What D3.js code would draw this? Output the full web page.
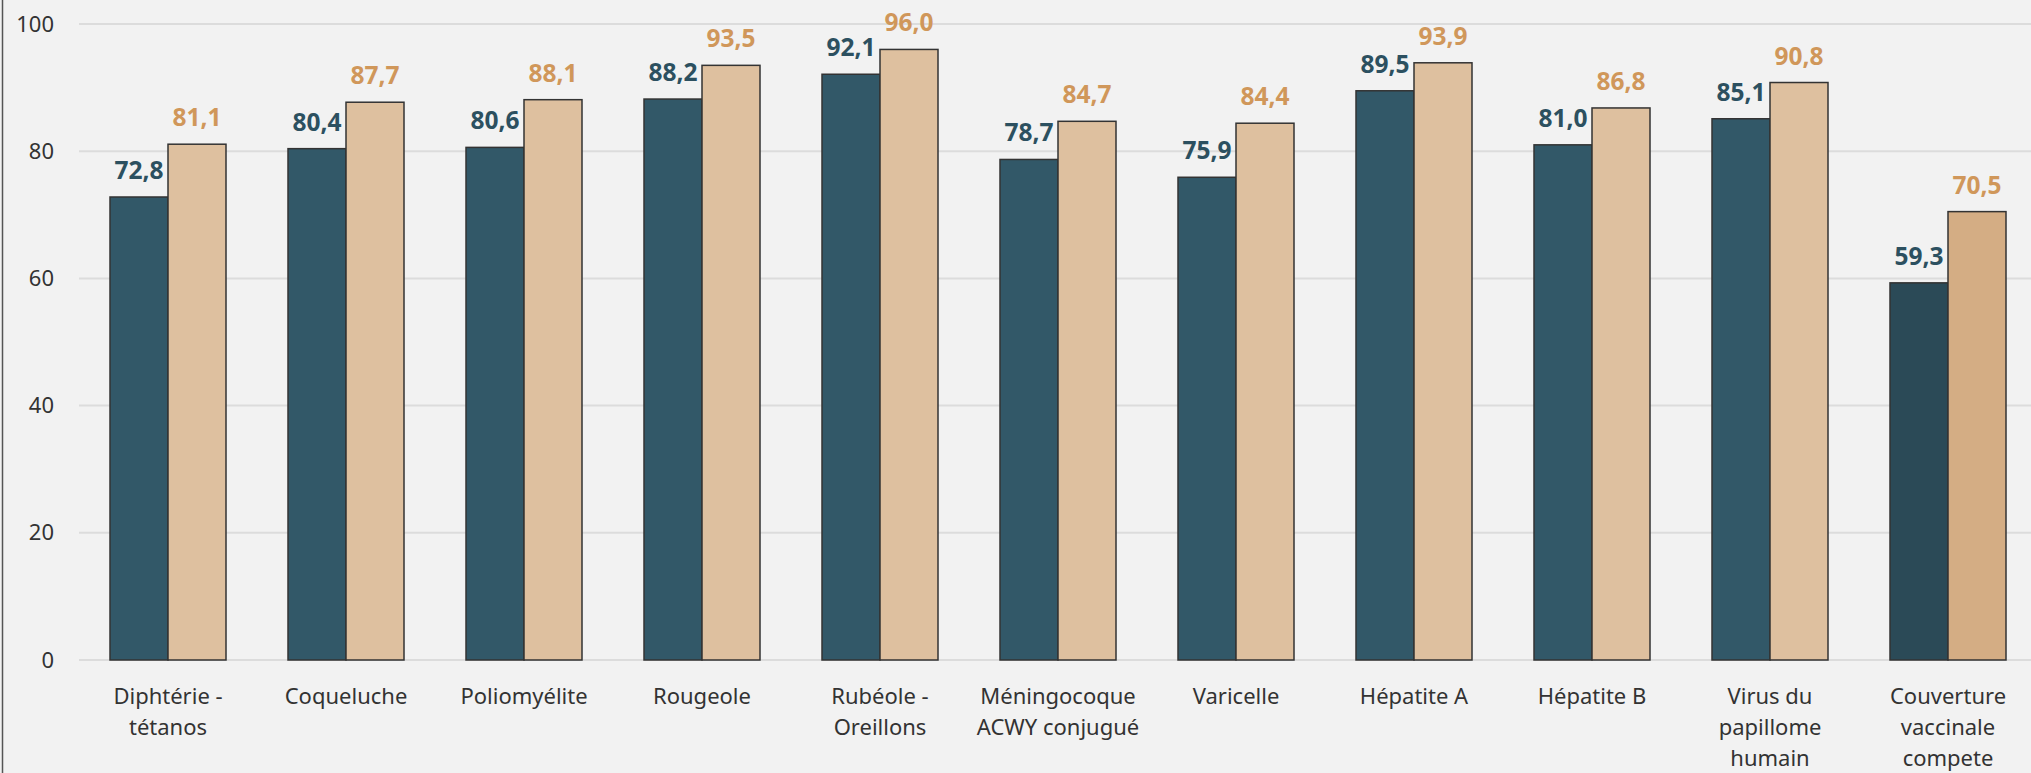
<!DOCTYPE html>
<html><head><meta charset="utf-8">
<script src="https://cdn.jsdelivr.net/npm/d3@7"></script>
<style>
html,body{margin:0;padding:0;background:#f2f2f2;}
svg{display:block;font-family:"Noto Sans",sans-serif;}
</style></head>
<body><svg id="chart" width="2031" height="773"></svg>
<script>
const categories = [
  ["Diphtérie -","tétanos"],
  ["Coqueluche"],
  ["Poliomyélite"],
  ["Rougeole"],
  ["Rubéole -","Oreillons"],
  ["Méningocoque","ACWY conjugué"],
  ["Varicelle"],
  ["Hépatite A"],
  ["Hépatite B"],
  ["Virus du","papillome","humain"],
  ["Couverture","vaccinale","compete"]
];
const seriesA = [72.8, 80.4, 80.6, 88.2, 92.1, 78.7, 75.9, 89.5, 81.0, 85.1, 59.3];
const seriesB = [81.1, 87.7, 88.1, 93.5, 96.0, 84.7, 84.4, 93.9, 86.8, 90.8, 70.5];
const yTicks = [0, 20, 40, 60, 80, 100];

const svg = d3.select("#chart");
const W = 2031, H = 773;
svg.append("rect").attr("width", W).attr("height", H).attr("fill", "#f2f2f2");
svg.append("line").attr("x1", 2.5).attr("x2", 2.5).attr("y1", 0).attr("y2", H)
  .attr("stroke", "#555").attr("stroke-width", 1.5);

const x0 = d3.scaleBand().domain(d3.range(categories.length)).range([79, 79 + 178 * 11]).paddingInner(62/178).paddingOuter(31/178);
const x1 = d3.scaleBand().domain([0, 1]).range([0, x0.bandwidth()]);
const y = d3.scaleLinear().domain([0, 100]).range([660, 24]);

// grid
svg.append("g").selectAll("line").data(yTicks).join("line")
  .attr("x1", 79).attr("x2", W).attr("y1", d => y(d)).attr("y2", d => y(d))
  .attr("stroke", "#dcdcdc").attr("stroke-width", 2);

// y axis labels
const yAxis = d3.axisLeft(y).tickValues(yTicks).tickSize(0).tickPadding(0).tickFormat(d3.format("d"));
const ya = svg.append("g").attr("transform", "translate(54,0)").call(yAxis);
ya.select(".domain").remove();
ya.selectAll("text").attr("font-size", 22).attr("fill", "#333").attr("font-family", "Noto Sans");

const colA = (i) => i === 10 ? "#2b4a57" : "#325868";
const colB = (i) => i === 10 ? "#d4ad84" : "#dec09f";

const groups = svg.append("g").selectAll("g").data(categories).join("g")
  .attr("transform", (d, i) => `translate(${x0(i)},0)`);

groups.append("rect").attr("x", x1(0)).attr("width", x1.bandwidth())
  .attr("y", (d, i) => y(seriesA[i])).attr("height", (d, i) => y(0) - y(seriesA[i]))
  .attr("fill", (d, i) => colA(i)).attr("stroke", "#333").attr("stroke-width", 1.5);
groups.append("rect").attr("x", x1(1)).attr("width", x1.bandwidth())
  .attr("y", (d, i) => y(seriesB[i])).attr("height", (d, i) => y(0) - y(seriesB[i]))
  .attr("fill", (d, i) => colB(i)).attr("stroke", "#333").attr("stroke-width", 1.5);

const fmt = v => d3.format(".1f")(v).replace(".", ",");
groups.append("text").attr("x", x1(0) + x1.bandwidth() / 2).attr("y", (d, i) => y(seriesA[i]) - 18)
  .attr("text-anchor", "middle").attr("font-size", 24.5).attr("font-weight", "bold")
  .attr("fill", "#2c5060").text((d, i) => fmt(seriesA[i]));
groups.append("text").attr("x", x1(1) + x1.bandwidth() / 2).attr("y", (d, i) => y(seriesB[i]) - 18)
  .attr("text-anchor", "middle").attr("font-size", 24.5).attr("font-weight", "bold")
  .attr("fill", "#d0975a").text((d, i) => fmt(seriesB[i]));

// category labels
groups.append("text").attr("text-anchor", "middle").attr("font-size", 22).attr("fill", "#333")
  .attr("x", x0.bandwidth() / 2)
  .selectAll("tspan").data(d => d).join("tspan")
  .attr("x", x0.bandwidth() / 2).attr("y", (d, j) => 704 + j * 31).text(d => d);
</script></body></html>
